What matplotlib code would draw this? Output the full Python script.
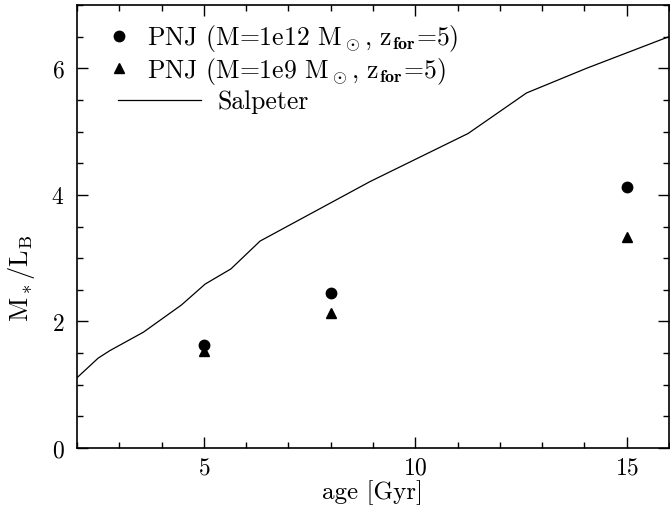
"""M*/L_B versus age: PNJ models against a Salpeter track."""

import matplotlib
matplotlib.use("Agg")
import matplotlib.pyplot as plt
from matplotlib.ticker import MultipleLocator

# ── Data ────────────────────────────────────────────────────────────────

salpeter_age = [2.0, 2.5, 2.78, 3.57, 4.47, 5.03, 5.64, 6.33, 8.93, 11.25, 12.63, 14.05, 16.0]
salpeter_ml = [1.11, 1.42, 1.54, 1.83, 2.26, 2.59, 2.83, 3.27, 4.21, 4.97, 5.61, 6.0, 6.5]

pnj_age = [5, 8, 15]
pnj_ml_1e12 = [1.63, 2.45, 4.12]
pnj_ml_1e9 = [1.54, 2.13, 3.34]

legend_labels = [
    r"PNJ (M=1e12 M$_\odot$, z$_{\mathbf{for}}$=5)",
    r"PNJ (M=1e9 M$_\odot$, z$_{\mathbf{for}}$=5)",
    "Salpeter",
]

# ── Style ───────────────────────────────────────────────────────────────

plt.rcParams["font.family"] = ["cmr10", "DejaVu Serif"]
plt.rcParams["mathtext.fontset"] = "cm"
plt.rcParams["axes.unicode_minus"] = False
plt.rcParams["axes.formatter.use_mathtext"] = True

FS = 17
LEG_FS = 18.5

fig = plt.figure(figsize=(6.7, 5.06), dpi=100)
ax = fig.add_axes([77 / 670, 57 / 506, 592 / 670, 443 / 506])

ax.plot(salpeter_age, salpeter_ml, color="black", lw=0.9)
ax.plot(pnj_age, pnj_ml_1e12, "o", color="black", ms=7.5, ls="none")
ax.plot(pnj_age, pnj_ml_1e9, "^", color="black", ms=6.5, ls="none")

ax.set_xlim(2, 16)
ax.set_ylim(0, 7)
ax.xaxis.set_major_locator(MultipleLocator(5))
ax.xaxis.set_minor_locator(MultipleLocator(1))
ax.yaxis.set_major_locator(MultipleLocator(2))
ax.yaxis.set_minor_locator(MultipleLocator(0.5))
ax.tick_params(which="both", direction="in", top=True, right=True,
               labelsize=FS, width=1.0)
ax.tick_params(which="major", length=8)
ax.tick_params(axis="x", which="major", pad=6)
ax.tick_params(axis="y", which="major", pad=9)
ax.tick_params(which="minor", length=4)
for sp in ax.spines.values():
    sp.set_linewidth(1.2)

ax.set_xlabel("age [Gyr]", fontsize=18, va="top")
ax.xaxis.set_label_coords(0.5, -0.07)
ax.set_ylabel(r"M$_*$/L$_{\rm B}$", fontsize=19)
ax.yaxis.set_label_coords(-0.068, 0.385)

# ── Hand-drawn legend (axes fraction) ───────────────────────────────────

rows = [0.912, 0.838, 0.767]
ax.plot([0.071], [rows[0] + 0.019], "o", color="black", ms=7.5, transform=ax.transAxes)
ax.plot([0.071], [rows[1] + 0.019], "^", color="black", ms=6.5, transform=ax.transAxes)
ax.plot([0.07, 0.209], [rows[2] + 0.019] * 2, color="black", lw=0.9, transform=ax.transAxes)
ax.text(0.118, rows[0], legend_labels[0], fontsize=LEG_FS, transform=ax.transAxes, va="baseline")
ax.text(0.118, rows[1], legend_labels[1], fontsize=LEG_FS, transform=ax.transAxes, va="baseline")
ax.text(0.238, rows[2], legend_labels[2], fontsize=LEG_FS, transform=ax.transAxes, va="baseline")

fig.savefig("out.png", dpi=100)
